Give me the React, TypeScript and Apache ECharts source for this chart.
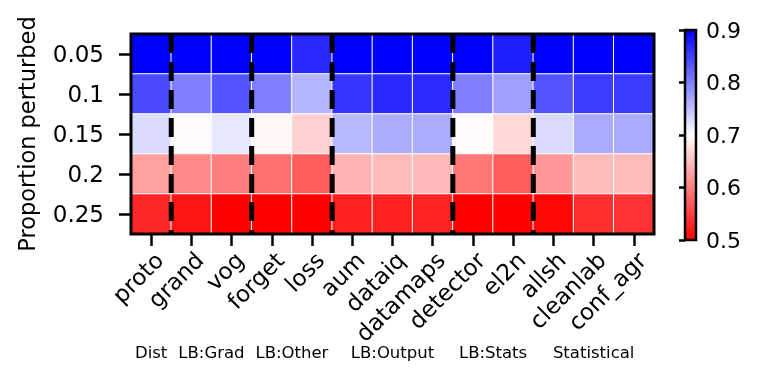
import React, { useEffect, useRef } from "react";
import * as echarts from "echarts";

const rowLabels = ["0.05", "0.1", "0.15", "0.2", "0.25"];
const methods = ["proto", "grand", "vog", "forget", "loss", "aum", "dataiq", "datamaps", "detector", "el2n", "allsh", "cleanlab", "conf_agr"];
const groupNames = ["Dist", "LB:Grad", "LB:Other", "LB:Output", "LB:Stats", "Statistical"];
const groupSizes = [1, 2, 2, 3, 2, 3];

const v005 = [0.9, 0.9, 0.9, 0.9, 0.868, 0.9, 0.9, 0.9, 0.9, 0.875, 0.9, 0.9, 0.9];
const v010 = [0.843, 0.8, 0.833, 0.8, 0.758, 0.858, 0.869, 0.866, 0.8, 0.775, 0.833, 0.853, 0.855];
const v015 = [0.728, 0.695, 0.72, 0.693, 0.663, 0.755, 0.765, 0.765, 0.696, 0.67, 0.729, 0.767, 0.767];
const v020 = [0.625, 0.607, 0.6, 0.588, 0.572, 0.641, 0.647, 0.645, 0.594, 0.572, 0.62, 0.647, 0.647];
const v025 = [0.531, 0.516, 0.5, 0.5, 0.5, 0.524, 0.525, 0.528, 0.5, 0.5, 0.505, 0.537, 0.541];
const rowsValues = [v005, v010, v015, v020, v025];

const cbMin = 0.5;
const cbMax = 0.9;
const cbStep = 0.1;

const FONT = "DejaVu Sans";
const G = { left: 131, top: 34, width: 523, height: 200 };

export default function App() {
  const ref = useRef<HTMLDivElement>(null);
  useEffect(() => {
    if (!ref.current) return;
    const chart = echarts.init(ref.current, undefined, { renderer: "svg" });

    const data: number[][] = [];
    rowsValues.forEach((row, r) => row.forEach((v, c) => data.push([c, r, v])));

    const boundaries: number[] = [];
    const centers: number[] = [];
    let acc = 0;
    groupSizes.forEach((s, i) => {
      centers.push(acc + s / 2);
      acc += s;
      if (i < groupSizes.length - 1) boundaries.push(acc);
    });

    const colW = G.width / methods.length;

    const lineSeries = boundaries.map((b) => ({
      type: "line",
      xAxisIndex: 1,
      yAxisIndex: 1,
      data: [[b, rowLabels.length], [b, 0]],
      symbol: "none",
      silent: true,
      z: 5,
      lineStyle: { color: "#000", width: 5, type: [19, 9], cap: "butt" },
    }));

    const option: any = {
      animation: false,
      textStyle: { fontFamily: FONT },
      grid: [
        { ...G, show: true, borderColor: "#000", borderWidth: 3, z: 10, backgroundColor: "transparent" },
        {
          left: 685, top: 30, width: 11, height: 210, show: true, borderColor: "#000", borderWidth: 2.5,
          backgroundColor: {
            type: "linear", x: 0, y: 0, x2: 0, y2: 1,
            colorStops: [
              { offset: 0, color: "#0000ff" },
              { offset: 0.5, color: "#ffffff" },
              { offset: 1, color: "#ff0000" },
            ],
          },
        },
      ],
      visualMap: {
        show: false,
        seriesIndex: 0,
        min: cbMin,
        max: cbMax,
        inRange: { color: ["#ff0000", "#ffffff", "#0000ff"] },
      },
      xAxis: [
        {
          type: "category",
          gridIndex: 0,
          data: methods,
          axisLine: { show: false },
          axisTick: { show: true, alignWithLabel: true, length: 12, lineStyle: { color: "#000", width: 2.5 } },
          axisLabel: { rotate: 45, fontSize: 23, color: "#000", margin: 14, verticalAlign: "top", fontFamily: FONT, interval: 0 },
          splitLine: { show: false },
        },
        { type: "value", gridIndex: 0, min: 0, max: methods.length, show: false },
        { type: "value", gridIndex: 1, min: 0, max: 1, show: false },
      ],
      yAxis: [
        {
          type: "category",
          gridIndex: 0,
          inverse: true,
          data: rowLabels,
          axisLine: { show: false },
          axisTick: { show: true, alignWithLabel: true, length: 12, lineStyle: { color: "#000", width: 2.5 } },
          axisLabel: { fontSize: 23, color: "#000", margin: 27, fontFamily: FONT },
          name: "Proportion perturbed",
          nameLocation: "middle",
          nameGap: 93,
          nameTextStyle: { fontSize: 22.5, color: "#000", fontFamily: FONT },
          splitLine: { show: false },
        },
        { type: "value", gridIndex: 0, min: 0, max: rowLabels.length, show: false },
        {
          type: "value", gridIndex: 1, position: "left", min: cbMin, max: cbMax, interval: cbStep,
          axisLine: { show: false },
          axisTick: { show: true, length: 6, lineStyle: { color: "#000", width: 2.5 } },
          axisLabel: { show: false },
          splitLine: { show: false },
        },
        {
          type: "value", gridIndex: 1, position: "right", min: cbMin, max: cbMax, interval: cbStep,
          axisLine: { show: false },
          axisTick: { show: false },
          axisLabel: { show: true, fontSize: 22, color: "#000", margin: 10, fontFamily: FONT, formatter: (v: number) => v.toFixed(1) },
          splitLine: { show: false },
        },
      ],
      series: [
        {
          type: "heatmap",
          xAxisIndex: 0,
          yAxisIndex: 0,
          data,
          itemStyle: { borderColor: "#ffffff", borderWidth: 1 },
          emphasis: { disabled: true },
        },
        ...lineSeries,
      ],
      graphic: groupNames.map((name, i) => ({
        type: "text",
        x: G.left + centers[i] * colW,
        y: 352,
        style: { text: name, fontSize: 16.5, fontFamily: FONT, fill: "#000", align: "center", verticalAlign: "middle" },
      })),
    };

    chart.setOption(option);
    return () => chart.dispose();
  }, []);

  return <div ref={ref} style={{ position: "fixed", left: 0, top: 0, width: 762, height: 382 }} />;
}
